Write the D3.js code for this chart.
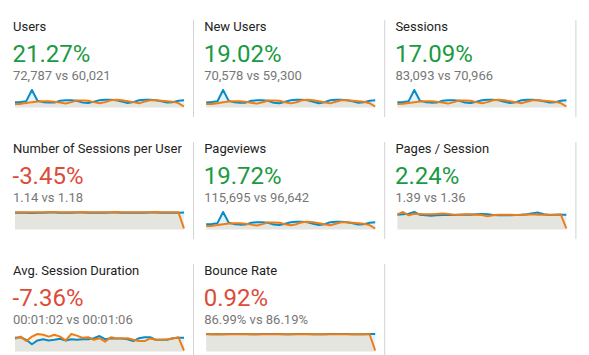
<!DOCTYPE html>
<html><head><meta charset="utf-8">
<script src="https://cdn.jsdelivr.net/npm/d3@7"></script>
<style>html,body{margin:0;padding:0;background:#fff;} svg{display:block;font-family:Roboto,"Noto Sans",sans-serif;}</style>
</head><body><svg id="c" width="589" height="355"></svg>
<script>
const titles = ["Users","New Users","Sessions","Number of Sessions per User","Pageviews","Pages / Session","Avg. Session Duration","Bounce Rate"];
const changes = [21.27, 19.02, 17.09, -3.45, 19.72, 2.24, -7.36, 0.92];
const isGood = [true, true, true, false, true, true, false, false];
const comparisons = ["72,787 vs 60,021","70,578 vs 59,300","83,093 vs 70,966","1.14 vs 1.18","115,695 vs 96,642","1.39 vs 1.36","00:01:02 vs 00:01:06","86.99% vs 86.19%"];

const usersCur = [2020,2210,2585,8000,2820,2115,1880,1880,2820,3055,3055,2820,1880,1645,2350,3055,3290,3290,3055,2350,1645,2115,3055,3290,3290,3055,2585,1880,2115,2820,3055];
const usersPrev = [1270,1270,1645,2115,2445,2585,2585,2350,1880,1410,2115,2960,2960,2820,2115,1550,2115,3055,3290,3055,2585,2115,1550,2350,3055,3055,2820,2585,2350,1645,0];
const newUsersCur = [1950,2150,2500,7900,2700,2050,1820,1850,2730,2960,2980,2740,1830,1600,2290,2970,3190,3200,2960,2280,1600,2050,2970,3200,3190,2970,2510,1830,2050,2740,2980];
const newUsersPrev = [1230,1240,1600,2060,2380,2510,2520,2290,1830,1370,2060,2880,2870,2740,2060,1500,2060,2970,3200,2970,2510,2060,1500,2290,2970,2960,2740,2510,2290,1600,0];
const sessionsCur = [2330,2540,2970,9200,3240,2430,2160,2170,3240,3510,3520,3240,2170,1890,2700,3510,3780,3790,3510,2700,1890,2430,3510,3780,3790,3510,2970,2160,2430,3240,3520];
const sessionsPrev = [1460,1470,1890,2430,2810,2970,2980,2700,2160,1620,2430,3400,3410,3240,2430,1780,2430,3510,3780,3510,2970,2430,1780,2700,3510,3510,3240,2970,2700,1890,0];
const spuCur = [1.14,1.14,1.13,1.12,1.14,1.14,1.15,1.15,1.14,1.14,1.14,1.15,1.15,1.14,1.14,1.14,1.14,1.15,1.15,1.14,1.14,1.14,1.14,1.14,1.15,1.15,1.14,1.14,1.14,1.14,1.15];
const spuPrev = [1.18,1.18,1.18,1.17,1.18,1.18,1.19,1.19,1.18,1.18,1.18,1.18,1.19,1.18,1.18,1.18,1.18,1.18,1.19,1.18,1.18,1.18,1.18,1.18,1.18,1.19,1.18,1.18,1.18,1.18,0];
const pageviewsCur = [3200,3500,4100,12700,4470,3350,2980,2990,4470,4840,4850,4470,2990,2610,3720,4840,5210,5220,4840,3720,2610,3350,4840,5210,5220,4840,4100,2980,3350,4470,4850];
const pageviewsPrev = [2010,2020,2610,3350,3870,4100,4110,3720,2980,2240,3350,4690,4700,4470,3350,2450,3350,4840,5210,4840,4100,3350,2450,3720,4840,4840,4470,4100,3720,2610,0];
const ppsCur = [1.35,1.40,1.45,1.63,1.35,1.30,1.27,1.30,1.33,1.37,1.33,1.35,1.35,1.37,1.40,1.43,1.40,1.33,1.30,1.30,1.30,1.33,1.35,1.40,1.50,1.57,1.40,1.33,1.35,1.37,1.35];
const ppsPrev = [1.40,1.63,1.30,1.45,1.43,1.40,1.40,1.43,1.47,1.43,1.37,1.37,1.40,1.40,1.37,1.33,1.20,1.30,1.37,1.37,1.35,1.33,1.35,1.37,1.40,1.37,1.35,1.37,1.37,1.40,0];
const durationCur = [63,66,53,31,50,56,50,53,58,50,56,53,56,56,61,72,56,61,60,60,56,47,61,66,66,53,53,53,61,63,63];
const durationPrev = [58,69,47,69,82,78,69,78,69,50,82,74,63,66,53,61,44,66,61,60,61,53,47,47,60,53,53,56,60,66,0];
const bounceCur = [87.5,86.8,87.2,86.5,87.0,87.3,87.6,87.1,86.9,86.6,87.0,87.3,87.5,87.0,86.8,86.7,87.2,87.6,87.4,86.9,86.6,86.8,87.2,87.5,87.6,87.1,86.8,86.6,86.9,87.2,87.3];
const bouncePrev = [86.0,86.6,86.2,86.0,86.3,86.5,86.1,85.8,85.9,86.2,86.4,86.1,85.9,86.0,86.3,86.5,86.4,86.2,86.0,86.2,86.4,86.5,86.3,86.1,86.0,86.2,86.4,86.3,86.1,86.2,0];

const currentSeries = [usersCur,newUsersCur,sessionsCur,spuCur,pageviewsCur,ppsCur,durationCur,bounceCur];
const previousSeries = [usersPrev,newUsersPrev,sessionsPrev,spuPrev,pageviewsPrev,ppsPrev,durationPrev,bouncePrev];

const svg = d3.select("#c");
const colW = 191.2, rowH = 122;
const BLUE = "#058dc7", ORANGE = "#ed7e17";

titles.forEach((t, i) => {
  const col = i % 3, row = Math.floor(i / 3);
  const ox = col * colW, oy = row * rowH;
  const g = svg.append("g");
  g.append("line").attr("x1", 193.5 + ox).attr("x2", 193.5 + ox)
    .attr("y1", 20 + oy).attr("y2", 117 + oy)
    .attr("stroke", "#d3d3d3").attr("stroke-width", 1);
  g.append("text").attr("x", 13 + ox).attr("y", 31 + oy)
    .attr("font-size", 13).attr("fill", "#222").text(t);
  g.append("text").attr("x", 12.5 + ox).attr("y", 62 + oy)
    .attr("font-size", 24).attr("fill", isGood[i] ? "#1a9a42" : "#dd4b39")
    .text(changes[i].toFixed(2) + "%");
  g.append("text").attr("x", 13 + ox).attr("y", 79.5 + oy)
    .attr("font-size", 13).attr("fill", "#777").text(comparisons[i]);

  const cur = currentSeries[i], prev = previousSeries[i];
  const x = d3.scaleLinear().domain([0, cur.length - 1]).range([15 + ox, 184 + ox]);
  const y = d3.scaleLinear().domain([0, d3.max(cur.concat(prev))]).range([106.5 + oy, 90 + oy]);
  const bottom = 107.5 + oy;
  const area = d3.area().x((d, j) => x(j)).y0(bottom).y1(d => y(d));
  const line = d3.line().x((d, j) => x(j)).y(d => y(d));
  g.append("path").attr("d", area(cur)).attr("fill", BLUE).attr("fill-opacity", 0.11);
  g.append("path").attr("d", area(prev)).attr("fill", ORANGE).attr("fill-opacity", 0.11);
  g.append("path").attr("d", line(cur)).attr("fill", "none").attr("stroke", BLUE).attr("stroke-width", 2).attr("stroke-linejoin", "round");
  g.append("path").attr("d", line(prev)).attr("fill", "none").attr("stroke", ORANGE).attr("stroke-width", 2).attr("stroke-linejoin", "round");
});
</script></body></html>
